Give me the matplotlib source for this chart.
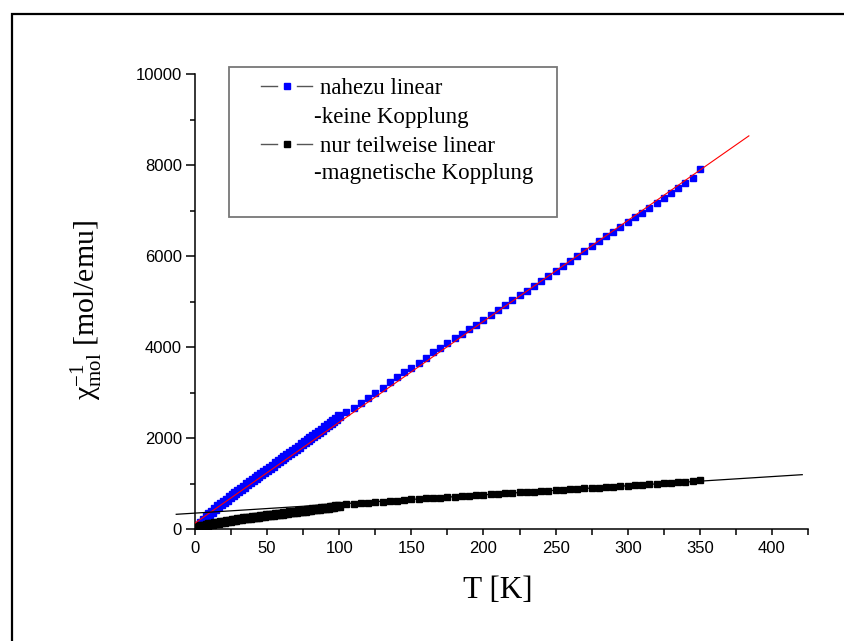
import matplotlib
matplotlib.use("Agg")
import matplotlib.pyplot as plt
from matplotlib.lines import Line2D
from matplotlib.patches import Rectangle

plt.rcParams['font.family'] = ['Liberation Sans', 'DejaVu Sans']
plt.rcParams['mathtext.fontset'] = 'custom'
plt.rcParams['mathtext.rm'] = 'Liberation Serif'
plt.rcParams['mathtext.it'] = 'Liberation Serif:italic'

# temperature grid of the two measurement runs
T_low = [2, 4, 6, 8, 10, 12, 14, 16, 18, 20, 22, 24, 26, 28, 30, 32, 34, 36, 38, 40,
         42, 44, 46, 48, 50, 52, 54, 56, 58, 60, 62, 64, 66, 68, 70, 72, 74, 76, 78, 80,
         82, 84, 86, 88, 90, 92, 94, 96, 98, 100]
T_high = [105, 110, 115, 120, 125, 130, 135, 140, 145, 150, 155, 160, 165, 170, 175,
          180, 185, 190, 195, 200, 205, 210, 215, 220, 225, 230, 235, 240, 245, 250,
          255, 260, 265, 270, 275, 280, 285, 290, 295, 300, 305, 310, 315, 320, 325,
          330, 335, 340, 345, 350]

# inverse molar susceptibility, sample without coupling (blue)
chi_lin_low = [65, 130, 195, 255, 320, 380, 440, 495, 550, 600, 645, 695, 745, 790,
               840, 885, 930, 980, 1025, 1070, 1115, 1165, 1210, 1255, 1305, 1350,
               1395, 1440, 1490, 1535, 1580, 1625, 1675, 1720, 1765, 1810, 1860, 1905,
               1950, 2000, 2045, 2090, 2140, 2185, 2235, 2280, 2330, 2380, 2425, 2475]
chi_lin_high = [2575, 2665, 2770, 2880, 2990, 3095, 3225, 3330, 3440, 3545, 3655, 3765,
                3880, 3985, 4095, 4195, 4280, 4395, 4490, 4585, 4695, 4805, 4925, 5035,
                5145, 5240, 5350, 5460, 5570, 5680, 5790, 5885, 5990, 6100, 6210, 6320,
                6430, 6525, 6635, 6745, 6855, 6950, 7050, 7160, 7270, 7380, 7490, 7600,
                7715, 7910]

# inverse molar susceptibility, sample with magnetic coupling (black)
chi_mag_low = [40, 58, 74, 89, 103, 116, 128, 140, 152, 163, 174, 184, 194, 204, 213,
               222, 231, 240, 249, 257, 265, 273, 281, 289, 297, 305, 314, 322, 331,
               339, 347, 356, 364, 372, 381, 389, 397, 406, 414, 422, 430, 439, 447,
               455, 464, 472, 480, 489, 497, 505]
chi_mag_high = [540, 553, 566, 578, 590, 602, 614, 626, 638, 649, 660, 671, 682, 692,
                703, 713, 723, 734, 744, 754, 764, 774, 783, 793, 803, 813, 822, 832,
                842, 852, 862, 871, 881, 891, 901, 911, 921, 931, 941, 951, 961, 971,
                981, 991, 1001, 1012, 1022, 1033, 1045, 1070]

# linear fits (end points)
fit_lin_T = [0, 384]
fit_lin_chi = [130, 8640]
fit_mag_T = [-13, 421]
fit_mag_chi = [323, 1194]

W, H = 845, 641
fig = plt.figure(figsize=(W / 100, H / 100), dpi=100)


def fx(px):
    return px / W


def fy(py):
    return 1 - py / H


ax = fig.add_axes([fx(195), fy(529), fx(808) - fx(195), fy(74) - fy(529)])

# dense low temperature run gives a thicker band
ax.plot(T_low, chi_lin_low, 's', color='#0000ff', ms=5.2, mec='#0000ff', zorder=2)
ax.plot(T_high, chi_lin_high, 's', color='#0000ff', ms=4.5, mec='#0000ff', zorder=2)
ax.plot(T_low, chi_mag_low, 's', color='black', ms=5.2, mec='black', zorder=2)
ax.plot(T_high, chi_mag_high, 's', color='black', ms=4.5, mec='black', zorder=2)
ax.plot(fit_lin_T, fit_lin_chi, color='red', lw=0.8, zorder=3)
ax.plot(fit_mag_T, fit_mag_chi, color='black', lw=0.9, zorder=3, clip_on=False)

ax.set_xlim(0, 425)
ax.set_ylim(0, 10000)
ax.set_xticks([0, 50, 100, 150, 200, 250, 300, 350, 400])
ax.set_xticks([25, 75, 125, 175, 225, 275, 325, 375, 425], minor=True)
ax.set_yticks([0, 2000, 4000, 6000, 8000, 10000])
ax.set_yticks([1000, 3000, 5000, 7000, 9000], minor=True)

for s in ['top', 'right']:
    ax.spines[s].set_visible(False)
for s in ['left', 'bottom']:
    ax.spines[s].set_linewidth(1.1)

ax.tick_params(axis='both', which='both', direction='out', width=1.1, labelsize=12)
ax.tick_params(axis='x', which='major', length=4.5, pad=4)
ax.tick_params(axis='x', which='minor', length=4.5)
ax.tick_params(axis='y', which='major', length=6.5, pad=3)
ax.tick_params(axis='y', which='minor', length=3.6)

fig.text(fx(498), fy(598), 'T [K]', family='Liberation Serif', fontsize=22.5,
         ha='center', va='baseline')
fig.text(fx(87), fy(310), 'χ$_{\\mathrm{mol}}^{-1}$ [mol/emu]', family='Liberation Serif',
         fontsize=21.5, rotation=90, ha='center', va='center')

# legend box drawn by hand
fig.add_artist(Rectangle((fx(229), fy(217)), fx(557) - fx(229), fy(67) - fy(217),
                         transform=fig.transFigure, fill=False, ec='#777777', lw=1.3))
entries = [('#0000ff', 86, 'nahezu linear', 94, '-keine Kopplung', 122.7),
           ('black', 144, 'nur teilweise linear', 151.7, '-magnetische Kopplung', 179.3)]
for col, yh, l1, y1, l2, y2 in entries:
    for x0, x1 in [(261, 277), (297, 312)]:
        fig.add_artist(Line2D([fx(x0), fx(x1)], [fy(yh), fy(yh)], transform=fig.transFigure,
                              color='#555555', lw=1.0))
    fig.add_artist(Line2D([fx(287)], [fy(yh)], transform=fig.transFigure, marker='s',
                          ms=4.2, color=col, mec=col, ls='none'))
    fig.text(fx(320), fy(y1), l1, family='Liberation Serif', fontsize=16.5, va='baseline')
    fig.text(fx(314), fy(y2), l2, family='Liberation Serif', fontsize=16.5, va='baseline')

# outer frame of the page
fig.add_artist(Rectangle((fx(12), -0.2), 1.3, fy(14) + 0.2, transform=fig.transFigure,
                         fill=False, ec='black', lw=1.6, clip_on=False))

fig.savefig('out.png', dpi=100)
